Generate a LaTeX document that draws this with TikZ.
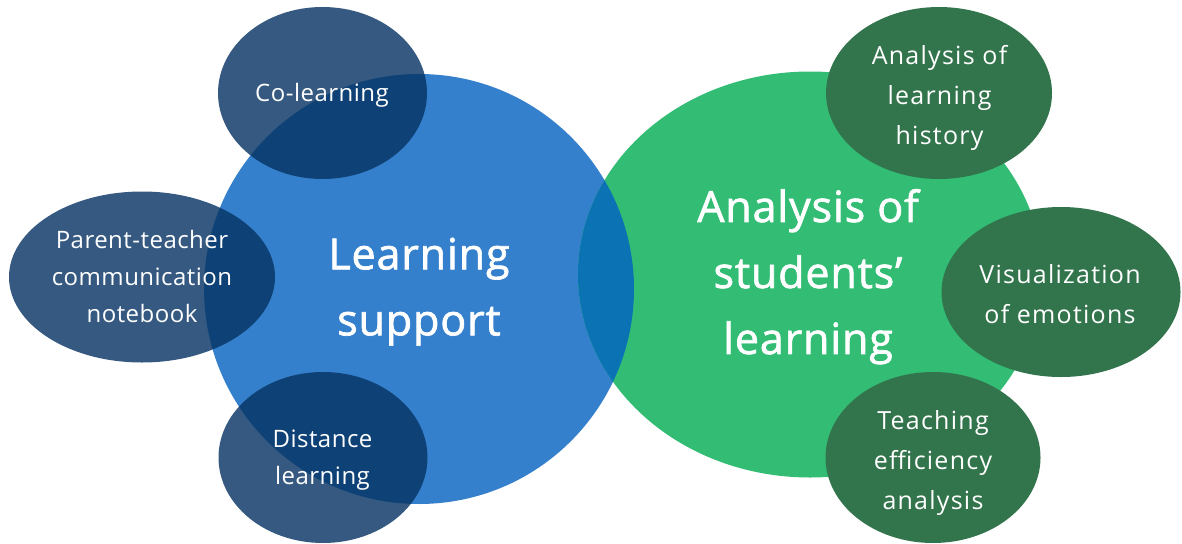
\documentclass[tikz,border=0pt]{standalone}
\usepackage{fontspec}
\setmainfont{Open Sans}
\newfontfamily\bigf[FakeBold=1.6, LetterSpace=2]{Open Sans}
\newfontfamily\smallf[LetterSpace=2]{Open Sans}
\newfontfamily\smallg[LetterSpace=5]{Open Sans}
\usetikzlibrary{shapes.geometric}
\definecolor{bigblue}{HTML}{3580CC}
\definecolor{biggreen}{HTML}{33BD74}
\definecolor{lenscol}{HTML}{0B72B4}
\definecolor{dblue}{RGB}{6,51,98}
\definecolor{dgreen}{HTML}{32744B}
\tikzset{
  shp/.style={ellipse, inner sep=0pt, outer sep=0pt, draw=none},
  bigtxt/.style={text=white, align=center, inner sep=0pt, font=\bigf\fontsize{43}{66}\selectfont},
  smalltxt/.style={text=white, align=center, inner sep=0pt, font=\smallf\fontsize{24}{37}\selectfont},
  smalltxtg/.style={text=white, align=center, inner sep=0pt, font=\smallg\fontsize{25}{40}\selectfont},
  dbl/.style={shp, fill=dblue, fill opacity=0.81},
  dgr/.style={shp, fill=dgreen}
}
\begin{document}
\begin{tikzpicture}[x=1pt,y=-1pt]
\useasboundingbox (0,0) rectangle (1182,543);
% big shapes
\node[shp, fill=bigblue, minimum width=430pt, minimum height=430pt] (ls) at (419,289) {};
\node[shp, fill=biggreen, minimum width=464pt, minimum height=406pt] (asl) at (810,274.5) {};
\begin{scope}
  \clip (asl.center) ellipse [x radius=232pt, y radius=203pt];
  \fill[lenscol] (ls.center) circle [radius=215pt];
\end{scope}
% blue satellites
\node[dbl, minimum width=209pt, minimum height=172pt] (col) at (322.5,93) {};
\node[dbl, minimum width=266pt, minimum height=171pt] (ptc) at (142,277) {};
\node[dbl, minimum width=209pt, minimum height=171pt] (dl) at (323,457.5) {};
% green satellites
\node[dgr, minimum width=226pt, minimum height=172pt] (alh) at (939,93) {};
\node[dgr, minimum width=239pt, minimum height=170pt] (voe) at (1061,292) {};
\node[dgr, minimum width=215pt, minimum height=171pt] (tea) at (933,457.5) {};
% labels
\node[bigtxt] (lst) at (419,291.7) {Learning\\support};
\node[bigtxt] (aslt) at (808,276.7) {Analysis of\\students’\\learning};
\node[smalltxt] (colt) at (322,95.5) {Co-learning};
\node[smalltxt] (ptct) at (142,276.5) {Parent-teacher\\communication\\notebook};
\node[smalltxt] (dlt) at (322.5,459.8) {Distance\\learning};
\node[smalltxtg] (alht) at (939.5,97.8) {Analysis of\\learning\\history};
\node[smalltxtg] (voet) at (1060,293.7) {Visualization\\of emotions};
\node[smalltxtg] (teat) at (933,462.5) {Teaching\\efficiency\\analysis};
\end{tikzpicture}
\end{document}
